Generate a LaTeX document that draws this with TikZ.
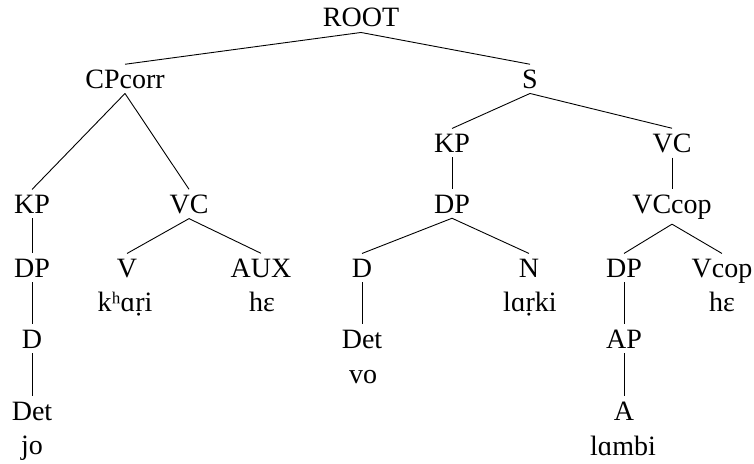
\documentclass[tikz,border=0pt]{standalone}
\usepackage{fontspec}
\setmainfont{Liberation Serif}
\begin{document}
\begin{tikzpicture}[x=1pt,y=-1pt,
  cat/.style={anchor=base,inner sep=5pt,font=\fontsize{28}{34}\selectfont},
  word/.style={cat},
  branch/.style={line width=0.9pt,black}]
\useasboundingbox (0,0) rectangle (754,463);

% categories, placed by baseline
\node[cat] (root)  at (361,27)  {ROOT};
\node[cat] (cp)    at (125,88)  {CPcorr};
\node[cat] (s)     at (530,88)  {S};

% left clause
\node[cat] (kp1)   at (32,213)  {KP};
\node[cat] (vc1)   at (189,213) {VC};
\node[cat] (dp1)   at (32,277)  {DP};
\node[cat] (d1)    at (32,348)  {D};
\node[cat] (det1)  at (32,420)  {Det};
\node[word] (jo)   at (32,454)  {jo};
\node[cat] (v)     at (127,277) {V};
\node[word] (khari) at (125,311) {kʰɑṛi};
\node[cat] (aux)   at (261,277) {AUX};
\node[word] (he1)  at (262,311) {hɛ};

% main clause
\node[cat] (kp2)   at (452,152) {KP};
\node[cat] (vc2)   at (672,152) {VC};
\node[cat] (dp2)   at (452,213) {DP};
\node[cat] (vccop) at (672,213) {VCcop};
\node[cat] (d2)    at (362,277) {D};
\node[cat] (det2)  at (362,348) {Det};
\node[word] (vo)   at (363,383) {vo};
\node[cat] (n)     at (529,277) {N};
\node[word] (larki) at (530,311) {lɑṛki};
\node[cat] (dp3)   at (624,277) {DP};
\node[cat] (ap)    at (624,348) {AP};
\node[cat] (a)     at (624,420) {A};
\node[word] (lambi) at (623,455) {lɑmbi};
\node[cat] (vcop)  at (722,277) {Vcop};
\node[word] (he2)  at (722,311) {hɛ};

% branches
\draw[branch] (root.south) -- (cp.north);
\draw[branch] (root.south) -- (s.north);
\draw[branch] (cp.south) -- (kp1.north);
\draw[branch] (cp.south) -- (vc1.north);
\draw[branch] (kp1.south) -- (dp1.north);
\draw[branch] (dp1.south) -- (d1.north);
\draw[branch] (d1.south) -- (det1.north);
\draw[branch] (vc1.south) -- (v.north);
\draw[branch] (vc1.south) -- (aux.north);
\draw[branch] (s.south) -- (kp2.north);
\draw[branch] (s.south) -- (vc2.north);
\draw[branch] (kp2.south) -- (dp2.north);
\draw[branch] (vc2.south) -- (vccop.north);
\draw[branch] (dp2.south) -- (d2.north);
\draw[branch] (dp2.south) -- (n.north);
\draw[branch] (d2.south) -- (det2.north);
\draw[branch] (vccop.south) -- (dp3.north);
\draw[branch] (vccop.south) -- (vcop.north);
\draw[branch] (dp3.south) -- (ap.north);
\draw[branch] (ap.south) -- (a.north);
\end{tikzpicture}
\end{document}
